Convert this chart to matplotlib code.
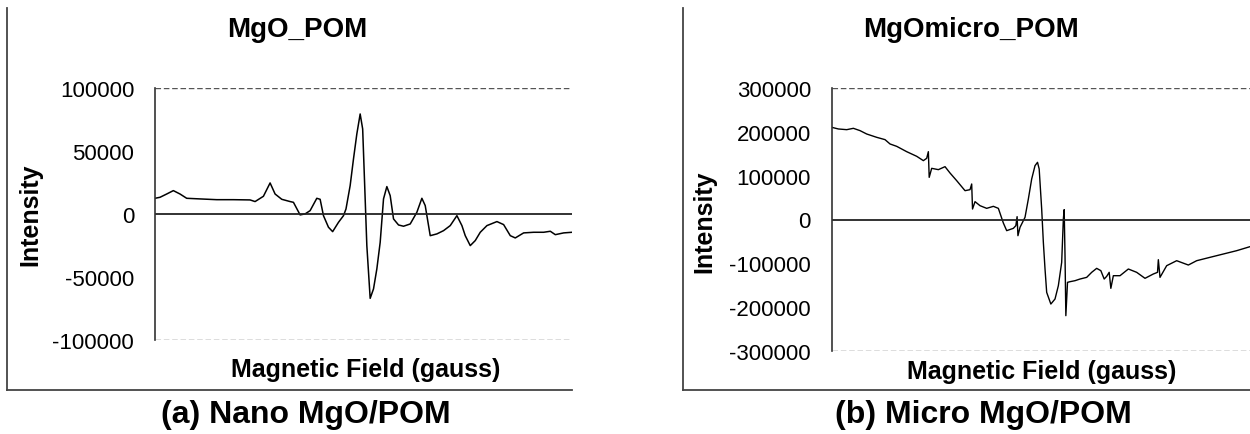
import matplotlib
matplotlib.use("Agg")
import matplotlib.pyplot as plt
from matplotlib.lines import Line2D

plt.rcParams['font.family'] = ['Liberation Sans', 'DejaVu Sans']

# ---- DATA ----
# (a) nano MgO/POM
nano_field = [3000, 3012, 3028, 3044, 3060, 3076, 3108, 3148, 3188, 3228, 3240, 3260,
              3276, 3288, 3304, 3324, 3332, 3348, 3360, 3372, 3388, 3396, 3404, 3416,
              3426, 3440, 3452, 3458, 3468, 3476, 3484, 3492, 3498, 3504, 3508, 3516,
              3524, 3532, 3540, 3548, 3556, 3564, 3572, 3584, 3596, 3612, 3628, 3640,
              3648, 3660, 3676, 3692, 3708, 3724, 3736, 3744, 3756, 3768, 3780, 3796,
              3820, 3836, 3852, 3864, 3884, 3908, 3932, 3948, 3960, 3980, 4000]
nano_int = [12600, 13400, 16000, 18700, 16000, 12600, 12100, 11500, 11500, 11300, 10000, 14200,
            24800, 16000, 11800, 10000, 9400, -600, 200, 2800, 12600, 11800, -1200, -10400,
            -13900, -6500, -1200, 4100, 22700, 43900, 63700, 79600, 67700, 12100, -25000, -66900,
            -59400, -43500, -22400, 12100, 21900, 14700, -3800, -8600, -9600, -7800, 1500, 12600,
            6800, -17100, -15700, -13100, -9100, -1200, -9100, -17100, -25000, -21000, -14400, -9100,
            -5900, -8300, -17100, -18900, -14900, -14400, -14400, -13600, -16300, -14900, -14400]

# (b) micro MgO/POM
micro_field = [3000, 3016, 3036, 3052, 3068, 3084, 3108, 3128, 3140, 3156, 3180, 3204,
               3220, 3228, 3232, 3234, 3240, 3256, 3272, 3284, 3300, 3320, 3332, 3336,
               3338, 3344, 3356, 3372, 3388, 3400, 3412, 3420, 3436, 3442, 3445, 3447,
               3452, 3464, 3472, 3480, 3488, 3494, 3498, 3504, 3508, 3512, 3516, 3526,
               3536, 3544, 3552, 3556, 3558, 3560, 3562, 3566, 3572, 3584, 3596, 3612,
               3624, 3636, 3646, 3654, 3660, 3666, 3670, 3676, 3692, 3712, 3732, 3752,
               3772, 3782, 3784, 3788, 3804, 3828, 3856, 3876, 3908, 3940, 3972, 4004]
micro_int = [210800, 207000, 205400, 208500, 203200, 195500, 187900, 182600, 172700, 167300, 155100, 144500,
             134600, 139900, 155100, 96400, 117000, 114000, 120800, 106300, 88800, 65900, 68200, 81200,
             24000, 40800, 31600, 25500, 30100, 25500, -8000, -25500, -20200, -14100, 6500, -37000,
             -17900, 5000, 46900, 92600, 123100, 130700, 115500, 24000, -52200, -113200, -166600, -193300,
             -181800, -151300, -98000, 1100, 22500, -82700, -219900, -143700, -142200, -139900, -136100, -132300,
             -120800, -111700, -117000, -136100, -130000, -120800, -157400, -128500, -128500, -113200, -120800, -134500,
             -124600, -120800, -91900, -132300, -105600, -94200, -104100, -94200, -86500, -78900, -71300, -62100]

nano_ticks = [-100000, -50000, 0, 50000, 100000]
micro_ticks = [-300000, -200000, -100000, 0, 100000, 200000, 300000]

W, H = 1250, 435
fig = plt.figure(figsize=(W / 100, H / 100), dpi=100)
fig.patch.set_facecolor('white')


def px(x, y):
    return x / W, 1 - y / H


def style_panel(ax, ticks, lim):
    ax.set_ylim(-lim, lim)
    ax.set_yticks(ticks)
    ax.set_yticklabels([str(t) for t in ticks])
    ax.set_xticks([])
    ax.tick_params(axis='y', length=0, pad=15, labelsize=16)
    for s in ['top', 'right', 'bottom']:
        ax.spines[s].set_visible(False)
    ax.spines['left'].set_color('#333333')
    ax.spines['left'].set_linewidth(1.2)
    ax.axhline(lim, color='#555555', lw=1, ls=(0, (4, 2)))
    ax.axhline(-lim, color='#555555', lw=1, ls=(0, (4, 2)))
    ax.axhline(0, color='#222222', lw=1.3)


# ----- PANEL (a) -----
ax1 = fig.add_axes([155 / W, 1 - 341 / H, (572 - 155) / W, (341 - 89.3) / H])
ax1.plot(nano_field, nano_int, color='black', lw=1.1)
ax1.set_xlim(3000, 4000)
style_panel(ax1, nano_ticks, 100000)

# ----- PANEL (b) -----
ax2 = fig.add_axes([831.7 / W, 1 - 351.7 / H, (W - 831.7) / W, (351.7 - 89.3) / H])
ax2.plot(micro_field, micro_int, color='black', lw=1.0)
ax2.set_xlim(3000, 4004)
style_panel(ax2, micro_ticks, 300000)

# TEXTS
fig.text(*px(297, 30), 'MgO_POM', ha='center', va='center', fontsize=20, fontweight='bold')
fig.text(*px(971, 30), 'MgOmicro_POM', ha='center', va='center', fontsize=20, fontweight='bold')
fig.text(*px(30, 215), 'Intensity', ha='center', va='center', rotation=90, fontsize=18, fontweight='bold')
fig.text(*px(704, 222), 'Intensity', ha='center', va='center', rotation=90, fontsize=18, fontweight='bold')
fig.text(*px(366, 370), 'Magnetic Field (gauss)', ha='center', va='center', fontsize=18, fontweight='bold')
fig.text(*px(1042, 372), 'Magnetic Field (gauss)', ha='center', va='center', fontsize=18, fontweight='bold')
fig.text(*px(306, 415), '(a) Nano MgO/POM', ha='center', va='center', fontsize=23, fontweight='bold')
fig.text(*px(983, 415), '(b) Micro MgO/POM', ha='center', va='center', fontsize=23, fontweight='bold')

# OUTER FRAMES (chart area borders, left + bottom only)
for x0, x1 in [(7, 572), (683, 1250)]:
    fig.add_artist(Line2D([x0 / W, x0 / W], [1 - 9 / H, 1 - 391 / H], color='#444444', lw=1.3))
    fig.add_artist(Line2D([x0 / W, x1 / W], [1 - 391 / H, 1 - 391 / H], color='#444444', lw=1.3))

plt.savefig('out.png', dpi=100, facecolor='white')
